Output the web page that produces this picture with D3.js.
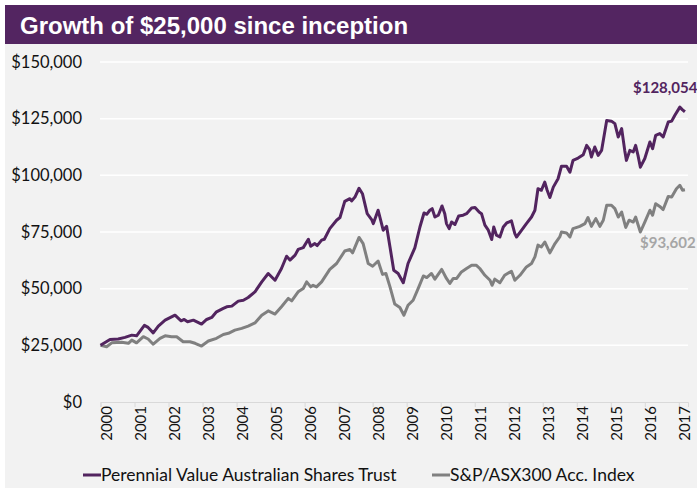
<!DOCTYPE html>
<html>
<head>
<meta charset="utf-8">
<script src="https://cdn.jsdelivr.net/npm/d3@7"></script>
<style>
  body { margin: 0; background: #fff; }
  svg { display: block; }
</style>
</head>
<body>
<svg id="chart" width="697" height="488"></svg>
<script>
// values, in $ thousands, dates as decimal years
const fundDates = [
  2000.00, 2000.28, 2000.52, 2000.72, 2000.92, 2001.06, 2001.29, 2001.40, 2001.55, 2001.70,
  2001.90, 2002.19, 2002.37, 2002.46, 2002.56, 2002.73, 2002.97, 2003.12, 2003.27, 2003.41,
  2003.61, 2003.71, 2003.86, 2004.05, 2004.20, 2004.34, 2004.54, 2004.74, 2004.93, 2005.13,
  2005.32, 2005.47, 2005.57, 2005.72, 2005.81, 2005.96, 2006.11, 2006.18, 2006.30, 2006.37,
  2006.50, 2006.58, 2006.74, 2006.94, 2007.04, 2007.18, 2007.33, 2007.38, 2007.48, 2007.60,
  2007.70, 2007.84, 2007.97, 2008.02, 2008.16, 2008.31, 2008.41, 2008.51, 2008.62, 2008.75,
  2008.90, 2009.04, 2009.24, 2009.39, 2009.51, 2009.59, 2009.68, 2009.75, 2009.83, 2009.93,
  2010.04, 2010.12, 2010.17, 2010.25, 2010.32, 2010.42, 2010.53, 2010.66, 2010.76, 2010.91,
  2011.01, 2011.13, 2011.20, 2011.30, 2011.40, 2011.50, 2011.56, 2011.64, 2011.74, 2011.84,
  2011.94, 2012.08, 2012.18, 2012.23, 2012.38, 2012.52, 2012.67, 2012.77, 2012.86, 2012.96,
  2013.06, 2013.13, 2013.21, 2013.31, 2013.45, 2013.55, 2013.70, 2013.80, 2013.89, 2014.04,
  2014.19, 2014.29, 2014.38, 2014.43, 2014.53, 2014.63, 2014.73, 2014.88, 2015.02, 2015.12,
  2015.22, 2015.32, 2015.41, 2015.46, 2015.56, 2015.66, 2015.73, 2015.80, 2015.87, 2016.00,
  2016.15, 2016.23, 2016.32, 2016.44, 2016.54, 2016.69, 2016.79, 2016.88, 2017.03, 2017.11,
  2017.18
];
const fundValues = [
  25.0, 27.6, 27.8, 28.5, 29.5, 29.2, 33.8, 32.9, 30.5, 33.5,
  36.1, 38.3, 35.8, 36.4, 35.4, 36.1, 34.4, 36.4, 37.3, 39.8,
  41.3, 42.0, 42.3, 44.5, 44.9, 46.1, 48.6, 53.0, 56.7, 53.7,
  58.9, 64.3, 62.6, 64.8, 67.3, 68.1, 71.8, 68.7, 69.9, 69.0,
  71.4, 71.8, 76.5, 80.2, 81.4, 88.5, 89.7, 88.7, 90.4, 94.3,
  91.9, 83.1, 80.5, 78.7, 84.6, 75.8, 77.5, 68.4, 58.1, 56.7,
  52.6, 61.1, 68.0, 77.2, 83.4, 82.8, 84.6, 85.3, 81.6, 82.4,
  86.5, 83.1, 78.7, 76.5, 79.4, 78.3, 82.1, 82.4, 83.1, 85.6,
  85.8, 83.8, 83.1, 78.0, 75.8, 71.7, 77.2, 73.6, 72.8, 77.2,
  79.0, 79.9, 74.3, 72.8, 75.8, 78.7, 81.6, 84.6, 94.1, 93.4,
  97.0, 93.4, 90.2, 94.8, 98.5, 104.0, 104.0, 101.4, 106.6, 107.6,
  109.1, 113.2, 111.3, 108.1, 112.5, 108.8, 111.0, 124.2, 123.9, 122.8,
  116.9, 120.6, 111.0, 106.6, 111.0, 110.3, 113.2, 108.8, 103.6, 107.4,
  114.7, 111.8, 117.6, 118.4, 116.9, 123.5, 123.9, 126.4, 130.1, 128.9,
  128.054
];

const indexDates = [
  2000.00, 2000.18, 2000.33, 2000.62, 2000.82, 2000.92, 2001.06, 2001.26, 2001.40, 2001.55,
  2001.75, 2001.90, 2002.09, 2002.24, 2002.43, 2002.63, 2002.78, 2002.97, 2003.17, 2003.41,
  2003.61, 2003.76, 2003.95, 2004.15, 2004.34, 2004.54, 2004.74, 2004.93, 2005.13, 2005.32,
  2005.52, 2005.62, 2005.72, 2005.81, 2005.96, 2006.06, 2006.18, 2006.25, 2006.35, 2006.50,
  2006.74, 2006.94, 2007.18, 2007.33, 2007.41, 2007.60, 2007.72, 2007.87, 2008.00, 2008.16,
  2008.29, 2008.39, 2008.51, 2008.65, 2008.80, 2008.92, 2009.04, 2009.19, 2009.34, 2009.49,
  2009.59, 2009.73, 2009.83, 2010.03, 2010.17, 2010.27, 2010.37, 2010.47, 2010.61, 2010.76,
  2010.91, 2011.05, 2011.15, 2011.30, 2011.45, 2011.51, 2011.59, 2011.74, 2011.88, 2012.08,
  2012.18, 2012.33, 2012.52, 2012.67, 2012.77, 2012.86, 2012.96, 2013.06, 2013.21, 2013.36,
  2013.50, 2013.55, 2013.70, 2013.80, 2013.89, 2014.09, 2014.24, 2014.33, 2014.43, 2014.56,
  2014.68, 2014.78, 2014.88, 2015.02, 2015.12, 2015.22, 2015.32, 2015.44, 2015.54, 2015.66,
  2015.73, 2015.87, 2016.00, 2016.15, 2016.23, 2016.32, 2016.44, 2016.54, 2016.69, 2016.79,
  2016.93, 2017.03, 2017.11, 2017.18
];
const indexValues = [
  25.0, 24.4, 26.1, 26.4, 25.9, 27.3, 26.1, 28.8, 27.8, 25.5,
  28.1, 29.2, 28.8, 28.8, 26.6, 26.6, 25.9, 24.7, 26.9, 28.1,
  29.8, 30.3, 31.7, 32.5, 33.5, 34.9, 38.3, 40.2, 38.8, 42.0,
  45.7, 44.6, 46.7, 48.6, 50.1, 53.0, 50.8, 51.5, 50.8, 53.0,
  58.5, 61.1, 66.6, 67.3, 65.8, 72.6, 69.9, 61.1, 59.9, 62.2,
  56.3, 56.7, 50.8, 43.2, 41.7, 38.3, 42.7, 44.9, 50.1, 55.6,
  54.9, 56.7, 54.2, 58.5, 54.5, 52.3, 54.5, 54.5, 57.4, 58.9,
  60.3, 60.3, 58.9, 55.9, 53.7, 51.5, 54.2, 52.6, 55.9, 57.7,
  53.7, 55.9, 59.6, 61.1, 64.0, 69.2, 68.4, 70.6, 65.8, 69.9,
  72.8, 75.0, 74.6, 72.8, 76.5, 77.5, 78.7, 81.4, 77.5, 80.9,
  77.5, 80.2, 86.8, 86.8, 85.3, 81.6, 83.8, 77.0, 80.2, 79.4,
  81.6, 75.0, 79.4, 84.6, 82.4, 87.5, 86.3, 84.9, 90.7, 90.4,
  94.1, 95.6, 93.4, 93.602
];

const years = d3.range(2000, 2018);
const yTicks = [0, 25000, 50000, 75000, 100000, 125000, 150000];
const seriesNames = ["Perennial Value Australian Shares Trust", "S&P/ASX300 Acc. Index"];
const endLabels = ["$128,054", "$93,602"];
const title = "Growth of $25,000 since inception";

const purple = "#52245f";
const grey = "#808080";
const font = "Lato, 'Open Sans', sans-serif";

const svg = d3.select("#chart");

// background panel and title band
svg.append("rect").attr("x", 5).attr("y", 44).attr("width", 692).attr("height", 444).attr("fill", "#f2f2f2");
svg.append("rect").attr("x", 5).attr("y", 5).attr("width", 692).attr("height", 39).attr("fill", "#532561");
svg.append("text")
  .attr("x", 20).attr("y", 34)
  .attr("fill", "#fff")
  .style("font-family", "'Liberation Sans', Arial, sans-serif")
  .style("font-weight", "bold")
  .style("font-size", "24px")
  .text(title);

let x = d3.scaleLinear().domain([2000, 2017.27]).range([100.5, 688]);
let y = d3.scaleLinear().domain([0, 150000]).range([402, 62]);

// gridlines
svg.append("g")
  .selectAll("line")
  .data(yTicks.filter((d) => d > 0))
  .join("line")
  .attr("x1", 100).attr("x2", 688)
  .attr("y1", (d) => y(d)).attr("y2", (d) => y(d))
  .attr("stroke", "#fff")
  .attr("stroke-width", 1.5);

// y labels
svg.append("g")
  .selectAll("text")
  .data(yTicks)
  .join("text")
  .attr("x", 82)
  .attr("y", (d) => y(d))
  .attr("dy", "0.35em")
  .attr("text-anchor", "end")
  .style("font-family", font)
  .style("font-size", "16.5px")
  .attr("fill", "#111")
  .text((d) => "$" + d3.format(",")(d));

// x axis
let xAxis = svg.append("g")
  .attr("transform", `translate(0, ${y(0)})`)
  .call(d3.axisBottom(x).tickValues(years).tickSize(5).tickSizeOuter(5).tickFormat(d3.format("d")));
xAxis.select(".domain").attr("stroke", "#d9d9d9");
xAxis.selectAll(".tick line").attr("stroke", "#d9d9d9");
xAxis.selectAll(".tick text")
  .attr("transform", "rotate(-90)")
  .attr("text-anchor", "end")
  .attr("x", -4)
  .attr("y", 10.5)
  .attr("dy", 0)
  .attr("fill", "#111")
  .style("font-family", font)
  .style("font-size", "15px");

// lines
const line = d3.line()
  .x((d) => x(d[0]))
  .y((d) => y(d[1] * 1000));

svg.append("path")
  .datum(d3.zip(indexDates, indexValues))
  .attr("fill", "none")
  .attr("stroke", grey)
  .attr("stroke-width", 3)
  .attr("stroke-linejoin", "round")
  .attr("d", line);

svg.append("path")
  .datum(d3.zip(fundDates, fundValues))
  .attr("fill", "none")
  .attr("stroke", purple)
  .attr("stroke-width", 3)
  .attr("stroke-linejoin", "round")
  .attr("d", line);

// end value labels
svg.append("text")
  .attr("x", 633).attr("y", 93)
  .attr("fill", purple)
  .style("font-family", font).style("font-weight", "bold").style("font-size", "15px")
  .text(endLabels[0]);
svg.append("text")
  .attr("x", 640).attr("y", 248)
  .attr("fill", "#a6a6a6")
  .style("font-family", font).style("font-weight", "bold").style("font-size", "15px")
  .text(endLabels[1]);

// legend
const legend = [
  { name: seriesNames[0], color: purple, x: 83 },
  { name: seriesNames[1], color: grey, x: 432 }
];
let lg = svg.append("g").selectAll("g").data(legend).join("g")
  .attr("transform", (d) => `translate(${d.x}, 475)`);
lg.append("line").attr("x1", 0).attr("x2", 18)
  .attr("stroke", (d) => d.color).attr("stroke-width", 3);
lg.append("text").attr("x", 18).attr("dy", "0.35em")
  .attr("fill", "#111")
  .style("font-family", font).style("font-size", "17.5px")
  .text((d) => d.name);
</script>
</body>
</html>
